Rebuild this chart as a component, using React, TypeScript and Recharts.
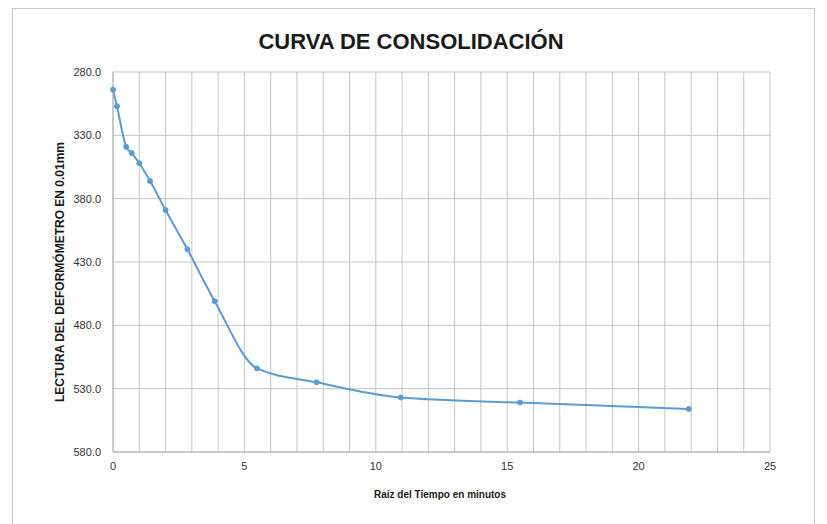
import { CartesianGrid, Line, LineChart, XAxis, YAxis } from "recharts";

// raíz del tiempo (min^0.5) y lectura del deformómetro (0.01 mm)
const raizTiempo = [0, 0.15, 0.5, 0.71, 1, 1.41, 2, 2.83, 3.87, 5.48, 7.75, 10.95, 15.49, 21.91];
const lectura = [294, 307, 339, 344, 352, 366, 389, 420, 461, 514, 525, 537, 541, 546];

const xGridTicks = [0, 1, 2, 3, 4, 5, 6, 7, 8, 9, 10, 11, 12, 13, 14, 15, 16, 17, 18, 19, 20, 21, 22, 23, 24, 25];
const xLabelTicks = [0, 5, 10, 15, 20, 25];
const yTicks = [280, 330, 380, 430, 480, 530, 580];

const data = raizTiempo.map((x, i) => ({ x, y: lectura[i] }));

const font = "'Liberation Sans', Arial, sans-serif";
const tickStyle = { fill: "#333", fontSize: 11, fontFamily: font };

export default function App() {
  return (
    <div
      style={{
        position: "absolute",
        left: 0,
        top: 0,
        width: 827,
        height: 524,
        background: "#fff",
        overflow: "hidden",
        fontFamily: font,
      }}
    >
      <div
        style={{
          position: "absolute",
          left: 12,
          top: 8,
          width: 803,
          height: 530,
          border: "1px solid #c8c8c8",
          boxSizing: "border-box",
        }}
      />
      <div
        style={{
          position: "absolute",
          left: 0,
          width: 822,
          top: 29,
          textAlign: "center",
          fontSize: 22,
          fontWeight: 700,
          color: "#1a1a1a",
        }}
      >
        CURVA DE CONSOLIDACIÓN
      </div>
      <div
        style={{
          position: "absolute",
          left: 60,
          top: 272,
          transform: "translate(-50%, -50%) rotate(-90deg)",
          whiteSpace: "nowrap",
          fontSize: 12,
          fontWeight: 700,
          color: "#1a1a1a",
        }}
      >
        LECTURA DEL DEFORMÓMETRO EN 0.01mm
      </div>
      <div
        style={{
          position: "absolute",
          left: 440,
          top: 494,
          transform: "translate(-50%, -50%)",
          whiteSpace: "nowrap",
          fontSize: 10,
          fontWeight: 700,
          color: "#1a1a1a",
        }}
      >
        Raíz del Tiempo en minutos
      </div>
      <LineChart
        width={827}
        height={524}
        data={data}
        margin={{ top: 72, right: 57, bottom: 42, left: 53 }}
        style={{ position: "absolute", left: 0, top: 0 }}
      >
        <CartesianGrid stroke="#c4c4c4" strokeWidth={1} />
        <XAxis
          type="number"
          dataKey="x"
          domain={[0, 25]}
          ticks={xGridTicks}
          interval={0}
          height={30}
          tickLine={false}
          axisLine={{ stroke: "#b0b0b0" }}
          tickSize={6}
          tickMargin={4}
          tick={tickStyle}
          tickFormatter={(v: number) => (xLabelTicks.includes(v) ? String(v) : "")}
        />
        <YAxis
          type="number"
          dataKey="y"
          reversed
          domain={[280, 580]}
          ticks={yTicks}
          interval={0}
          width={60}
          tickLine={false}
          axisLine={{ stroke: "#b0b0b0" }}
          tickSize={6}
          tickMargin={6}
          tick={tickStyle}
          tickFormatter={(v: number) => v.toFixed(1)}
        />
        <Line
          type="monotone"
          dataKey="y"
          stroke="#5b9bd5"
          strokeWidth={2}
          dot={{ r: 2.5, fill: "#5b9bd5", stroke: "#5b9bd5", strokeWidth: 1 }}
          isAnimationActive={false}
        />
      </LineChart>
    </div>
  );
}
